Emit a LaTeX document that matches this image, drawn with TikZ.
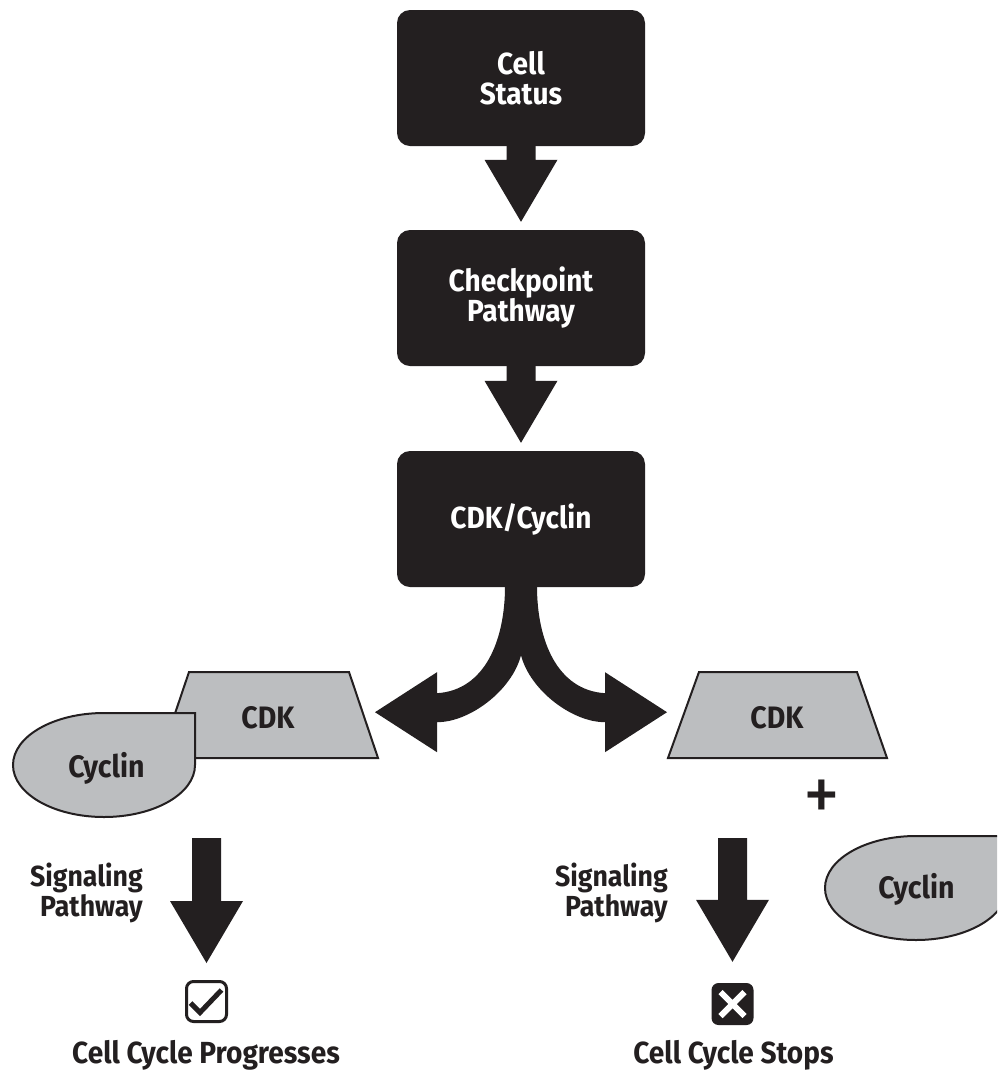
\documentclass[tikz,border=0pt]{standalone}
\usepackage{fontspec}
\setmainfont{Fira Sans}[FakeStretch=0.92]
\usetikzlibrary{calc}

\definecolor{ink}{HTML}{231F20}
\definecolor{protein}{HTML}{BCBEC0}

% Solid downward block arrow: shaft from #1, head ending at #2
\newcommand{\blockdown}[2]{%
  \fill[ink] let \p1=(#1), \p2=(#2) in
    (\x1-14.5pt,\y1+1pt) -- (\x1+14.5pt,\y1+1pt) -- (\x1+14.5pt,\y2+62pt)
    -- (\x1+36.5pt,\y2+62pt) -- (\x2,\y2) -- (\x1-36.5pt,\y2+62pt)
    -- (\x1-14.5pt,\y2+62pt) -- cycle;}

\tikzset{
  stage/.style={rectangle, rounded corners=13pt, fill=ink, text=white,
    minimum width=248pt, minimum height=136pt, align=center, inner sep=0pt,
    font=\bfseries\fontsize{30.5}{30}\selectfont},
  proteinshape/.style={fill=protein, draw=ink, line width=2pt, line join=miter},
  proteinlabel/.style={text=ink, inner sep=0pt, font=\bfseries\fontsize{31}{31}\selectfont},
  sidelabel/.style={text=ink, inner sep=0pt, align=right,
    font=\bfseries\fontsize{29}{30}\selectfont},
  outcome/.style={text=ink, inner sep=0pt, font=\bfseries\fontsize{30.5}{30}\selectfont},
  cyclin/.pic={\filldraw[proteinshape] (0,-52) -- (91,-52) -- (91,0)
    arc[start angle=0, end angle=270, x radius=91, y radius=52] -- cycle;},
}

\begin{document}
\begin{tikzpicture}[x=1pt, y=-1pt]
\clip (0,0) rectangle (997,1072);
\fill[white] (0,0) rectangle (997,1072);

% main chain of stages
\node[stage] (status) at (521,78) {Cell\\Status};
\node[stage] (check) at (521,298) {Checkpoint\\Pathway};
\node[stage] (cdkcyc) at (521,519) {CDK/Cyclin};

\coordinate (tip1) at ($(check.north)+(0,-8)$);
\coordinate (tip2) at ($(cdkcyc.north)+(0,-8)$);
\blockdown{status.south}{tip1}
\blockdown{check.south}{tip2}

% forked arrow out of the CDK/Cyclin stage
\begin{scope}[shift={(cdkcyc.south)}]
  \fill[ink] (-16,-1) .. controls (-16,53) and (-36,103) .. (-84,106)
    -- (-84,85) -- (-146,125) -- (-84,165) -- (-84,135)
    .. controls (-51,135) and (-9,103) .. (0,68)
    .. controls (9,103) and (51,135) .. (84,135)
    -- (84,165) -- (146,125) -- (84,85) -- (84,106)
    .. controls (36,103) and (16,53) .. (16,-1) -- cycle;
\end{scope}

% left branch: CDK bound to cyclin
\filldraw[proteinshape] (189,672) -- (349,672) -- (378,758) -- (160,758) -- cycle;
\node[proteinlabel] (cdkL) at (268,718) {CDK};
\pic at (104,765) {cyclin};
\node[proteinlabel, anchor=base] (cycL) at (106.5,777) {Cyclin};

% right branch: CDK and free cyclin
\filldraw[proteinshape] (699,672) -- (857,672) -- (887,758) -- (668,758) -- cycle;
\node[proteinlabel] (cdkR) at (777,718) {CDK};
\node[text=ink, inner sep=0pt, font=\mdseries\fontsize{80}{80}\selectfont] (plus) at (822,801) {+};
\pic at (916,888) {cyclin};
\node[proteinlabel, anchor=base] (cycR) at (916.5,898) {Cyclin};

% outcome markers
\node[draw=ink, line width=3pt, fill=white, rounded corners=7pt,
  minimum width=40pt, minimum height=40pt, inner sep=0pt] (ok) at (206.5,1001.5) {};
\draw[ink, line width=5pt, line join=miter] ($(ok.center)+(-16,1.5)$) -- ($(ok.center)+(-6.5,11)$) -- ($(ok.center)+(15,-11.5)$);
\node[fill=ink, rounded corners=7pt, minimum width=42pt, minimum height=42pt,
  inner sep=0pt] (no) at (732.5,1004) {};
\draw[white, line width=6pt] ($(no.center)+(-12,-12)$) -- ($(no.center)+(12,12)$)
  ($(no.center)+(-12,12)$) -- ($(no.center)+(12,-12)$);

% signaling arrows
\coordinate (sigL) at (206.5,839);
\coordinate (sigR) at (732.5,839);
\coordinate (tipL) at ($(ok.north)+(0,-17)$);
\coordinate (tipR) at ($(no.north)+(0,-21)$);
\blockdown{sigL}{tipL}
\blockdown{sigR}{tipR}

\node[sidelabel, anchor=east] (sigtxtL) at (143,893) {Signaling\\Pathway};
\node[sidelabel, anchor=east] (sigtxtR) at (668,893) {Signaling\\Pathway};

\node[outcome, anchor=base] (progress) at (206,1063) {Cell Cycle Progresses};
\node[outcome, anchor=base] (stops) at (733.5,1063) {Cell Cycle Stops};
\end{tikzpicture}
\end{document}
